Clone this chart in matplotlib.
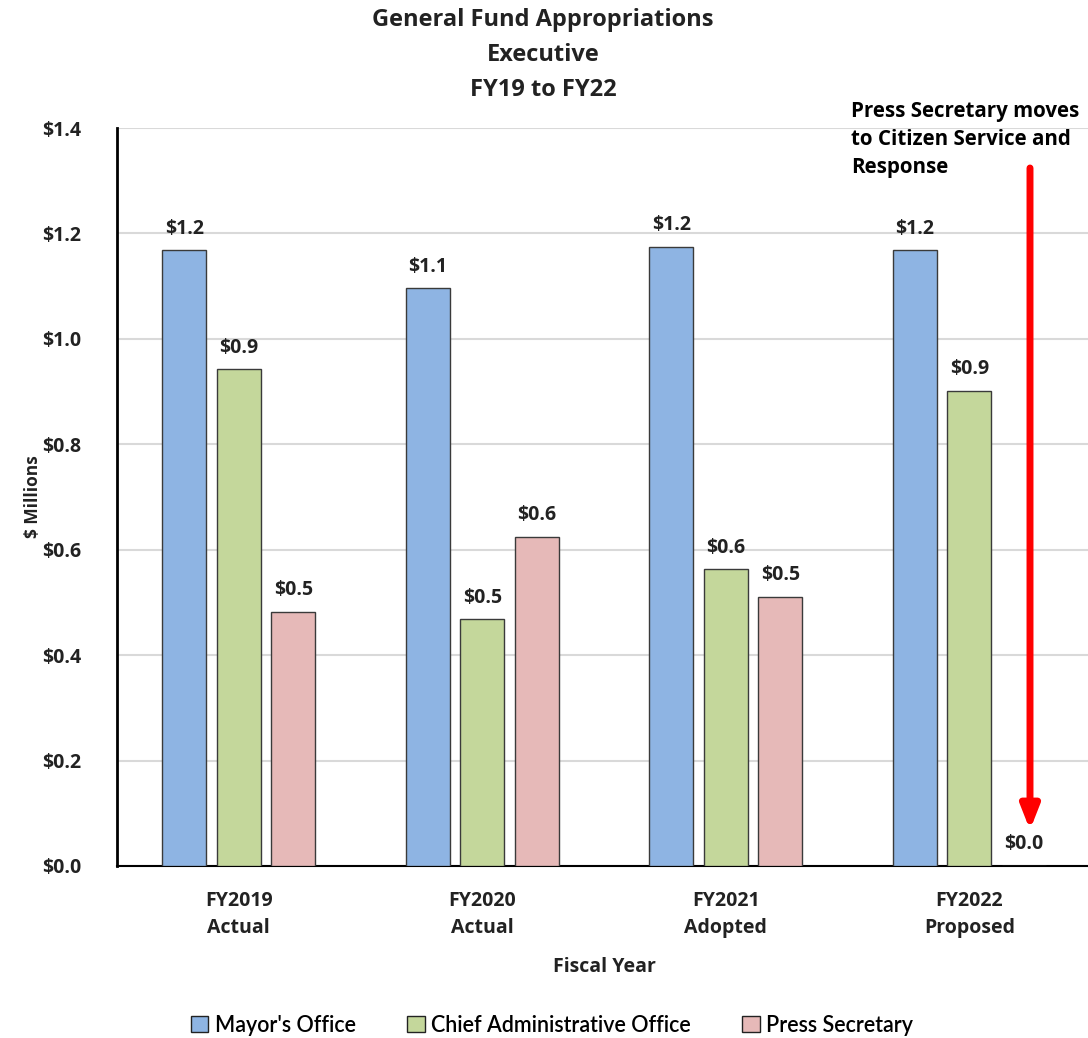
import matplotlib
matplotlib.use("Agg")
import matplotlib.pyplot as plt
import numpy as np
from matplotlib.patches import Patch

plt.rcParams['font.family'] = ['Open Sans', 'DejaVu Sans']

categories = ["FY2019\nActual", "FY2020\nActual", "FY2021\nAdopted", "FY2022\nProposed"]
series_names = ["Mayor's Office", "Chief Administrative Office", "Press Secretary"]
mayor = [1.168, 1.096, 1.175, 1.168]
cao = [0.942, 0.468, 0.563, 0.902]
press = [0.482, 0.625, 0.511, 0.0]
colors = ["#8EB4E3", "#C4D79B", "#E6B9B8"]
yticks = [0.0, 0.2, 0.4, 0.6, 0.8, 1.0, 1.2, 1.4]

fig = plt.figure(figsize=(10.88, 10.38), dpi=100)
ax = fig.add_axes([117/1088, 1 - 866/1038, (1091 - 117)/1088, (866 - 128)/1038])

x = np.arange(len(categories))
step = 0.224
width = 0.18
for i, (vals, col) in enumerate(zip([mayor, cao, press], colors)):
    pos = x + (i - 1) * step
    ax.bar(pos, vals, width=width, color=col, edgecolor="#3a3a3a", linewidth=1.0, zorder=3)
    for px, v in zip(pos, vals):
        ax.text(px, v + 0.022, f"${v:.1f}", ha="center", va="bottom",
                fontsize=14, fontweight="bold", color="#222222", zorder=4)

ax.set_xlim(-0.5, 3.5)
ax.set_ylim(0, 1.4)
ax.set_yticks(yticks)
ax.set_yticklabels([f"${t:.1f}" for t in yticks], fontsize=14, fontweight="bold", color="#222222")
ax.set_xticks(x)
ax.set_xticklabels(categories, fontsize=14, fontweight="bold", linespacing=1.45, color="#222222")
ax.tick_params(axis="y", length=0, pad=26)
ax.tick_params(axis="x", length=0, pad=18)
ax.grid(axis="y", color="#D9D9D9", linewidth=1.5, zorder=0)
ax.set_axisbelow(True)
for s in ["top", "right"]:
    ax.spines[s].set_visible(False)
ax.spines["left"].set_linewidth(2)
ax.spines["bottom"].set_linewidth(1.5)

ax.set_ylabel("$ Millions", fontsize=12.5, fontweight="bold", labelpad=0, color="#222222")
ax.set_xlabel("Fiscal Year", fontsize=14, fontweight="bold", labelpad=14, color="#222222")

fig.text(543/1088, 1 - 8/1038, "General Fund Appropriations\nExecutive\nFY19 to FY22",
         ha="center", va="top", fontsize=17, fontweight="bold", linespacing=1.62, color="#222222")

fig.text(851/1088, 1 - 101/1038, "Press Secretary moves\nto Citizen Service and\nResponse",
         ha="left", va="top", fontsize=14.8, fontweight="bold", linespacing=1.45, color="black")

ax.annotate("", xy=(1030/1088, 1 - 830/1038), xytext=(1030/1088, 1 - 168/1038),
            xycoords="figure fraction", textcoords="figure fraction",
            arrowprops=dict(arrowstyle="-|>,head_width=0.55,head_length=1.4", color="#FF0000",
                            lw=5, shrinkA=0, shrinkB=0))

handles = [Patch(facecolor=c, edgecolor="#222222", linewidth=1) for c in colors]
fig.legend(handles, series_names, loc="center", bbox_to_anchor=(552/1088, 1 - 1025/1038),
           ncol=3, frameon=False, handlelength=0.8, handleheight=0.8,
           handletextpad=0.3, columnspacing=2.4,
           prop={"family": ["Lato", "DejaVu Sans"], "size": 15.5, "weight": "semibold"})

fig.savefig("out.png", dpi=100)
